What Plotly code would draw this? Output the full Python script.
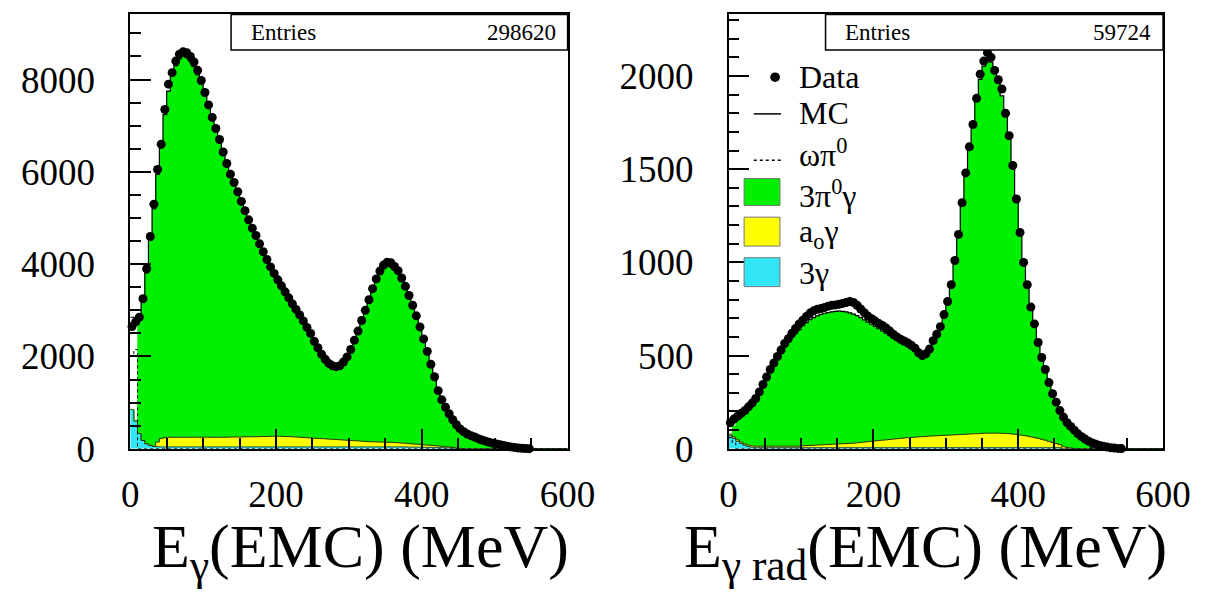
import numpy as np
import plotly.graph_objects as go

# ---------------- data (5 MeV bins, 0-600 MeV) ----------------
bin_width = 5
bin_left = list(range(0, 600, 5))

# Left panel: E_gamma(EMC)
left_data = [2650, 2750, 2850, 3250, 3900, 4600, 5300, 6050, 6600, 7350,
             7900, 8150, 8400, 8550, 8600, 8580, 8500, 8380, 8200, 7980,
             7720, 7450, 7180, 6940, 6700, 6430, 6180, 5950, 5770, 5570,
             5360, 5160, 4960, 4780, 4620, 4440, 4270, 4100, 3940, 3800,
             3660, 3530, 3400, 3270, 3140, 3020, 2900, 2770, 2630, 2500,
             2330, 2190, 2050, 1940, 1850, 1800, 1780, 1800, 1880, 1990,
             2150, 2350, 2550, 2780, 3000, 3230, 3470, 3680, 3850, 3980,
             4040, 4030, 3950, 3860, 3700, 3520, 3320, 3110, 2880, 2640,
             2380, 2110, 1830, 1560, 1260, 1060, 900, 760, 630, 520,
             430, 370, 320, 285, 255, 220, 190, 165, 140, 120,
             105, 90, 72, 55, 40, 28, 18, 11, 6, 3,
             0, 0, 0, 0, 0, 0, 0, 0, 0, 0]
left_3pi0g = [0, 0, 2450, 3000, 3700, 4450, 5150, 5800, 6300, 7000,
              7500, 7850, 8050, 8200, 8250, 8230, 8150, 8030, 7850, 7650,
              7400, 7150, 6900, 6650, 6400, 6150, 5900, 5680, 5480, 5280,
              5080, 4880, 4680, 4500, 4340, 4160, 3990, 3820, 3650, 3510,
              3380, 3250, 3120, 2990, 2870, 2750, 2630, 2510, 2380, 2250,
              2100, 1960, 1830, 1720, 1640, 1590, 1570, 1600, 1680, 1790,
              1960, 2160, 2360, 2590, 2810, 3040, 3270, 3480, 3640, 3760,
              3810, 3800, 3740, 3660, 3520, 3350, 3160, 2960, 2740, 2510,
              2260, 2000, 1730, 1470, 1190, 990, 840, 710, 590, 490,
              410, 360, 310, 270, 240, 210, 180, 155, 130, 110,
              95, 80, 62, 47, 33, 22, 14, 8, 4, 2,
              0, 0, 0, 0, 0, 0, 0, 0, 0, 0]
left_a0g = [0, 0, 0, 0, 0, 0, 0, 100, 180, 200,
            210, 210, 210, 210, 210, 210, 210, 210, 210, 210,
            210, 210, 210, 210, 210, 210, 210, 215, 215, 215,
            215, 220, 220, 220, 220, 225, 225, 225, 230, 230,
            230, 230, 225, 225, 220, 215, 210, 205, 200, 195,
            190, 185, 180, 175, 170, 165, 160, 155, 150, 145,
            140, 135, 130, 125, 120, 115, 110, 110, 105, 105,
            100, 100, 95, 90, 85, 80, 75, 70, 65, 60,
            55, 50, 45, 40, 35, 30, 25, 20, 15, 10,
            5, 0, 0, 0, 0, 0, 0, 0, 0, 0,
            0, 0, 0, 0, 0, 0, 0, 0, 0, 0,
            0, 0, 0, 0, 0, 0, 0, 0, 0, 0]
left_3g = [850, 600, 330, 180, 110, 75, 55, 45, 40, 40,
           40, 40, 40, 40, 40, 40, 40, 40, 40, 40,
           40, 40, 40, 40, 40, 40, 40, 40, 40, 40,
           40, 40, 40, 40, 40, 40, 40, 40, 40, 40,
           40, 40, 40, 40, 40, 40, 40, 40, 40, 40,
           40, 40, 40, 40, 40, 40, 40, 40, 40, 40,
           40, 40, 40, 40, 40, 40, 40, 40, 40, 40,
           40, 40, 40, 40, 40, 40, 35, 35, 35, 35,
           30, 30, 30, 30, 25, 25, 20, 20, 15, 10,
           5, 0, 0, 0, 0, 0, 0, 0, 0, 0,
           0, 0, 0, 0, 0, 0, 0, 0, 0, 0,
           0, 0, 0, 0, 0, 0, 0, 0, 0, 0]
left_omegapi0 = [2000, 2150, 0, 0, 0, 0, 0, 0, 0, 0,
                 0, 0, 0, 0, 0, 0, 0, 0, 0, 0,
                 0, 0, 0, 0, 0, 0, 0, 0, 0, 0,
                 0, 0, 0, 0, 0, 0, 0, 0, 0, 0,
                 0, 0, 0, 0, 0, 0, 0, 0, 0, 0,
                 0, 0, 0, 0, 0, 0, 0, 0, 0, 0,
                 0, 0, 0, 0, 0, 0, 0, 0, 0, 0,
                 0, 0, 0, 0, 0, 0, 0, 0, 0, 0,
                 0, 0, 0, 0, 0, 0, 0, 0, 0, 0,
                 0, 0, 0, 0, 0, 0, 0, 0, 0, 0,
                 0, 0, 0, 0, 0, 0, 0, 0, 0, 0,
                 0, 0, 0, 0, 0, 0, 0, 0, 0, 0]
left_entries = "298620"

# Right panel: E_gamma rad(EMC)
right_data = [140, 160, 175, 190, 205, 225, 245, 270, 305, 345,
              385, 425, 460, 495, 530, 565, 590, 620, 645, 670,
              690, 710, 728, 740, 748, 752, 758, 765, 770, 772,
              775, 780, 785, 790, 785, 770, 750, 730, 712, 698,
              685, 672, 662, 648, 632, 615, 600, 588, 578, 568,
              555, 540, 515, 500, 510, 535, 580, 615, 655, 720,
              790, 880, 1010, 1150, 1320, 1480, 1620, 1740, 1880, 2010,
              2080, 2125, 2100, 2030, 1980, 1930, 1800, 1680, 1520, 1340,
              1160, 1000, 880, 760, 670, 570, 490, 425, 355, 295,
              250, 205, 170, 140, 120, 100, 80, 65, 52, 40,
              31, 24, 18, 13, 9, 6, 4, 2, 1, 0,
              0, 0, 0, 0, 0, 0, 0, 0, 0, 0]
right_3pi0g = [0, 60, 120, 150, 180, 210, 235, 265, 300, 340,
               375, 410, 445, 475, 505, 535, 560, 585, 605, 625,
               645, 660, 675, 685, 693, 700, 705, 708, 710, 712,
               712, 710, 706, 700, 692, 682, 670, 656, 642, 628,
               614, 600, 586, 572, 557, 542, 528, 514, 500, 488,
               475, 462, 450, 442, 445, 465, 505, 545, 590, 650,
               720, 810, 930, 1070, 1230, 1390, 1530, 1660, 1790, 1900,
               1970, 2000, 1990, 1940, 1880, 1810, 1700, 1580, 1430, 1260,
               1090, 940, 810, 700, 600, 510, 435, 370, 310, 260,
               215, 180, 150, 125, 105, 88, 72, 58, 46, 36,
               28, 21, 16, 11, 8, 5, 3, 2, 1, 0,
               0, 0, 0, 0, 0, 0, 0, 0, 0, 0]
right_a0g = [8, 8, 8, 8, 8, 8, 8, 8, 8, 8,
             8, 8, 8, 8, 8, 8, 8, 8, 8, 8,
             10, 11, 12, 13, 14, 15, 16, 17, 18, 19,
             20, 21, 22, 23, 24, 26, 28, 30, 32, 34,
             36, 38, 40, 42, 44, 46, 48, 50, 52, 54,
             55, 56, 58, 59, 60, 62, 63, 64, 65, 66,
             67, 68, 69, 70, 71, 72, 73, 74, 75, 76,
             77, 78, 78, 78, 78, 77, 76, 75, 73, 71,
             68, 65, 62, 58, 54, 50, 45, 40, 34, 28,
             22, 16, 11, 7, 4, 2, 0, 0, 0, 0,
             0, 0, 0, 0, 0, 0, 0, 0, 0, 0,
             0, 0, 0, 0, 0, 0, 0, 0, 0, 0]
right_3g = [70, 55, 40, 28, 18, 12, 8, 6, 6, 6,
            6, 6, 6, 6, 6, 6, 6, 6, 6, 6,
            6, 6, 6, 6, 6, 6, 6, 6, 6, 6,
            6, 6, 6, 6, 6, 6, 6, 6, 6, 6,
            6, 6, 6, 6, 6, 6, 6, 6, 6, 6,
            6, 6, 6, 6, 6, 6, 6, 6, 6, 6,
            6, 6, 6, 6, 6, 6, 6, 6, 6, 6,
            6, 6, 6, 6, 6, 6, 6, 6, 6, 6,
            6, 6, 6, 6, 6, 6, 6, 6, 6, 6,
            6, 6, 0, 0, 0, 0, 0, 0, 0, 0,
            0, 0, 0, 0, 0, 0, 0, 0, 0, 0,
            0, 0, 0, 0, 0, 0, 0, 0, 0, 0]
right_omegapi0 = [60, 30, 0, 0, 0, 0, 0, 0, 0, 0,
                  0, 0, 0, 0, 0, 0, 0, 0, 0, 0,
                  0, 0, 0, 0, 0, 0, 0, 0, 0, 0,
                  0, 0, 0, 0, 0, 0, 0, 0, 0, 0,
                  0, 0, 0, 0, 0, 0, 0, 0, 0, 0,
                  0, 0, 0, 0, 0, 0, 0, 0, 0, 0,
                  0, 0, 0, 0, 0, 0, 0, 0, 0, 0,
                  0, 0, 0, 0, 0, 0, 0, 0, 0, 0,
                  0, 0, 0, 0, 0, 0, 0, 0, 0, 0,
                  0, 0, 0, 0, 0, 0, 0, 0, 0, 0,
                  0, 0, 0, 0, 0, 0, 0, 0, 0, 0,
                  0, 0, 0, 0, 0, 0, 0, 0, 0, 0]
right_entries = "59724"

x_ticks = [0, 200, 400, 600]
left_y_ticks = [0, 2000, 4000, 6000, 8000]
right_y_ticks = [0, 500, 1000, 1500, 2000]

# ---------------- styling ----------------
GREEN = "#00f000"
YELLOW = "#ffff00"
CYAN = "#33e6f5"
FONT = "Liberation Serif, Times New Roman, Times, serif"

fig = go.Figure()


def step_xy(values):
    edges = np.array(bin_left + [bin_left[-1] + bin_width], dtype=float)
    vals = np.asarray(values, dtype=float)
    return edges, np.append(vals, vals[-1])


def add_panel(xa, ya, data, pi3g, a0g, g3, omg):
    g3 = np.asarray(g3, float)
    a0g = np.asarray(a0g, float)
    pi3g = np.asarray(pi3g, float)
    omg = np.asarray(omg, float)
    lvl1 = g3
    lvl2 = g3 + a0g
    lvl3 = g3 + a0g + pi3g
    mc = lvl3 + omg
    for i, (lev, col, lc, fillmode) in enumerate([
        (lvl1, CYAN, "#1a4a50", "tozeroy"),
        (lvl2, YELLOW, "#303000", "tonexty"),
        (lvl3, GREEN, GREEN, "tonexty"),
    ]):
        ex, ey = step_xy(lev)
        fig.add_trace(go.Scatter(x=ex, y=ey, mode="lines", line_shape="hv",
                                 fill=fillmode, fillcolor=col,
                                 line=dict(color=lc, width=1 if i < 2 else 0.5),
                                 xaxis=xa, yaxis=ya, showlegend=False,
                                 hoverinfo="skip"))
    ex, ey = step_xy(omg)
    fig.add_trace(go.Scatter(x=ex, y=ey, mode="lines", line_shape="hv",
                             line=dict(color="black", width=1, dash="3px,3px"),
                             xaxis=xa, yaxis=ya, showlegend=False))
    ex, ey = step_xy(mc)
    fig.add_trace(go.Scatter(x=ex, y=ey, mode="lines", line_shape="hv",
                             line=dict(color="black", width=1.2),
                             xaxis=xa, yaxis=ya, showlegend=False))
    centers = [b + bin_width / 2 for b in bin_left]
    dvals = [v if v > 0 else None for v in data]
    fig.add_trace(go.Scatter(x=centers, y=dvals, mode="markers",
                             marker=dict(color="black", size=9, symbol="circle"),
                             xaxis=xa, yaxis=ya, showlegend=False, cliponaxis=False))


add_panel("x", "y", left_data, left_3pi0g, left_a0g, left_3g, left_omegapi0)
add_panel("x2", "y2", right_data, right_3pi0g, right_a0g, right_3g, right_omegapi0)

W, H = 1224, 602
def fx(px):
    return px / W
def fy(py):
    return (H - py) / H

ydom = [fy(465), fy(15)]

tick_font = dict(family=FONT, size=37, color="black")
axis_common = dict(showline=True, linecolor="black", linewidth=1.5, mirror=True,
                   ticks="inside", tickcolor="black", tickwidth=1.5,
                   showgrid=False, zeroline=False, tickfont=tick_font)

fig.update_layout(
    width=W, height=H,
    margin=dict(l=0, r=0, t=0, b=0),
    paper_bgcolor="white", plot_bgcolor="white",
    showlegend=False,
    font=dict(family=FONT, color="black"),
    xaxis=dict(domain=[fx(125), fx(576)], range=[0, 600], anchor="y",
               tickvals=x_ticks, ticklen=20, ticklabelstandoff=12,
               minor=dict(dtick=50, ticklen=11, ticks="inside", tickcolor="black", tickwidth=1.5),
               **axis_common),
    yaxis=dict(domain=ydom, range=[0, 9410], anchor="x",
               tickvals=left_y_ticks, ticklen=21, ticklabelstandoff=26,
               minor=dict(dtick=500, ticklen=11, ticks="inside", tickcolor="black", tickwidth=1.5),
               **axis_common),
    xaxis2=dict(domain=[fx(742), fx(1190)], range=[0, 600], anchor="y2",
                tickvals=x_ticks, ticklen=20, ticklabelstandoff=12,
                minor=dict(dtick=50, ticklen=11, ticks="inside", tickcolor="black", tickwidth=1.5),
                **axis_common),
    yaxis2=dict(domain=ydom, range=[0, 2330], anchor="x2",
                tickvals=right_y_ticks, ticklen=21, ticklabelstandoff=26,
                minor=dict(dtick=100, ticklen=11, ticks="inside", tickcolor="black", tickwidth=1.5),
                **axis_common),
)

annotations = []
shapes = []

# axis titles
annotations.append(dict(text="E<sub>γ</sub>(EMC) (MeV)", xref="paper", yref="paper",
                        x=fx(362), y=fy(570), xanchor="center", yanchor="middle",
                        showarrow=False, font=dict(family=FONT, size=62, color="black")))
annotations.append(dict(text="E<sub>γ rad</sub>(EMC) (MeV)", xref="paper", yref="paper",
                        x=fx(945), y=fy(570), xanchor="center", yanchor="middle",
                        showarrow=False, font=dict(family=FONT, size=62, color="black")))

# Entries boxes
for xa, ya, x0, entries in [("x", "y", 0.2306, left_entries), ("x2", "y2", 0.2232, right_entries)]:
    shapes.append(dict(type="rect", xref=f"{xa} domain", yref=f"{ya} domain",
                       x0=x0, x1=1, y0=0.918, y1=1, line=dict(color="black", width=1.5),
                       fillcolor="white", layer="above"))
    annotations.append(dict(text="Entries", xref=f"{xa} domain", yref=f"{ya} domain",
                            x=x0 + 0.04, y=0.959, xanchor="left", yanchor="middle",
                            showarrow=False, font=dict(family=FONT, size=23, color="black")))
    annotations.append(dict(text=entries, xref=f"{xa} domain", yref=f"{ya} domain",
                            x=0.978, y=0.959, xanchor="right", yanchor="middle",
                            showarrow=False, font=dict(family=FONT, size=23, color="black")))

# Legend (right panel)
def dx(px):
    return (px - 742) / 448
def dy(py):
    return (465 - py) / 450

leg_font = dict(family=FONT, size=32, color="black")
shapes.append(dict(type="circle", xref="x2 domain", yref="y2 domain",
                   x0=dx(785), x1=dx(795), y0=dy(85), y1=dy(75),
                   fillcolor="black", line=dict(color="black", width=0), layer="above"))
annotations.append(dict(text="Data", xref="x2 domain", yref="y2 domain", x=dx(813), y=dy(80),
                        xanchor="left", yanchor="middle", showarrow=False, font=leg_font))
shapes.append(dict(type="line", xref="x2 domain", yref="y2 domain",
                   x0=dx(768), x1=dx(796), y0=dy(118), y1=dy(118),
                   line=dict(color="black", width=1.5), layer="above"))
annotations.append(dict(text="MC", xref="x2 domain", yref="y2 domain", x=dx(813), y=dy(117),
                        xanchor="left", yanchor="middle", showarrow=False, font=leg_font))
shapes.append(dict(type="line", xref="x2 domain", yref="y2 domain",
                   x0=dx(768), x1=dx(796), y0=dy(166), y1=dy(166),
                   line=dict(color="black", width=1.5, dash="3px,3px"), layer="above"))
annotations.append(dict(text="ωπ<sup>0</sup>", xref="x2 domain", yref="y2 domain", x=dx(813), y=dy(159),
                        xanchor="left", yanchor="middle", showarrow=False, font=leg_font))
for (ytop, ybot, col, label, ytxt) in [
    (185, 213, GREEN, "3π<sup>0</sup>γ", 201),
    (225, 255, YELLOW, "a<sub>o</sub>γ", 242),
    (267, 297, CYAN, "3γ", 283),
]:
    shapes.append(dict(type="rect", xref="x2 domain", yref="y2 domain",
                       x0=dx(758), x1=dx(795), y0=dy(ybot), y1=dy(ytop),
                       fillcolor=col, line=dict(color="#777777", width=1), layer="above"))
    annotations.append(dict(text=label, xref="x2 domain", yref="y2 domain", x=dx(813), y=dy(ytxt),
                            xanchor="left", yanchor="middle", showarrow=False, font=leg_font))

fig.update_layout(annotations=annotations, shapes=shapes)
fig.write_html("out.html")
